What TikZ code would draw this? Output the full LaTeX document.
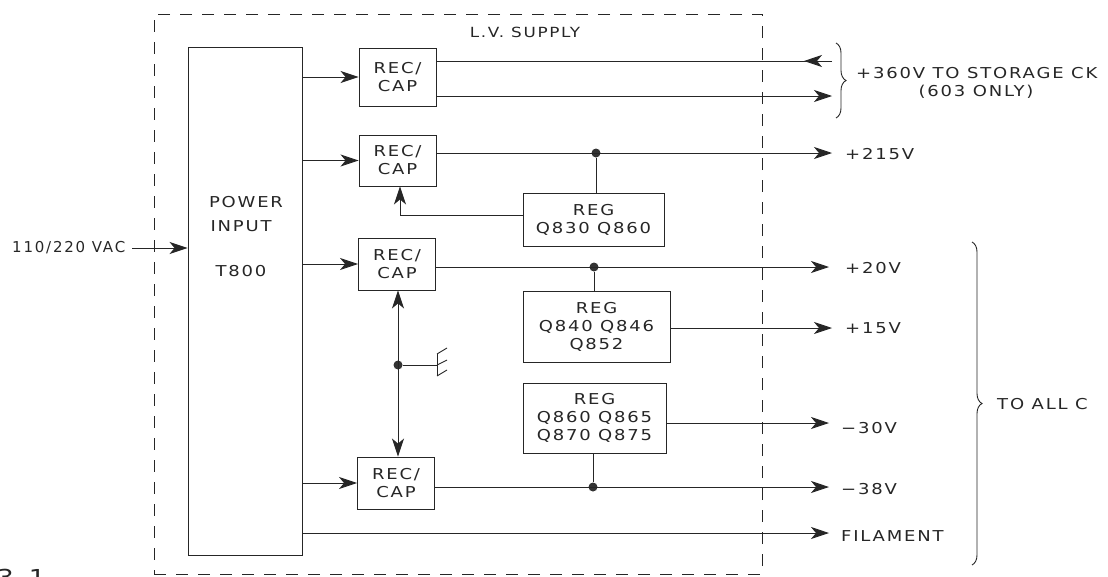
\documentclass[tikz,border=0pt]{standalone}
\usepackage{fontspec}
\setmainfont{DejaVu Sans}
\newfontfamily\lbfont{DejaVu Sans}[FakeStretch=1.2,LetterSpace=12]
\newfontfamily\lbfontn{DejaVu Sans}[LetterSpace=12]
\usetikzlibrary{arrows.meta,decorations.pathreplacing,calc}
\begin{document}
\begin{tikzpicture}[x=1pt,y=-1pt,
  txt/.style={font=\lbfont\fontsize{15}{18}\selectfont, inner sep=0pt, align=center, text=black!85},
  box/.style={draw=black!85, line width=0.9pt, inner sep=0pt},
  rcbox/.style={box, txt, minimum width=77pt, minimum height=52pt},
  regbox/.style={box, txt},
  ln/.style={line width=0.9pt, draw=black!85},
  arr/.style={ln, -{Stealth[length=18pt,width=12pt,inset=5pt]}},
  dot/.style={circle, fill=black!80, inner sep=0pt, minimum size=9pt},
  brc/.style={ln, decorate, decoration={brace, amplitude=10pt}}]
\useasboundingbox (0,0) rectangle (1108,576);
% dashed L.V. supply frame
\node[draw=black!85, line width=1pt, dash pattern=on 12pt off 10pt, minimum width=608pt, minimum height=560pt, inner sep=0pt] (lv) at (458,294) {};
\node[txt, font=\lbfont\fontsize{14}{16}\selectfont] (lvl) at (525,32) {L.V. SUPPLY};
% power input
\node[box, minimum width=114pt, minimum height=508pt] (power) at (245,301) {};
\node[txt] (pw1) at (246,202) {POWER};
\node[txt] (pw2) at (241,226) {INPUT};
\node[txt] (pw3) at (241,271) {T800};
\node[txt, font=\lbfontn\fontsize{15}{18}\selectfont, anchor=west] (vac) at (12,248) {110/220 VAC};
\draw[arr] ([xshift=7pt]vac.east) -- (vac.east -| power.west);
% rec/cap boxes
\node[rcbox, minimum height=58pt] (rc1) at (397.5,77) {REC/\\CAP};
\node[rcbox, minimum height=51pt] (rc2) at (397.5,160.5) {REC/\\CAP};
\node[rcbox] (rc3) at (397,264) {REC/\\CAP};
\node[rcbox] (rc4) at (396,483) {REC/\\CAP};
\foreach \r in {rc1,rc2,rc3,rc4} \draw[arr] (power.east |- \r.west) -- (\r.west);
% regulators
\node[regbox, minimum width=141pt, minimum height=53pt] (reg1) at (593.5,219.5) {REG\\Q830 Q860};
\node[regbox, minimum width=147pt, minimum height=71pt] (reg2) at (596.5,326.5) {REG\\Q840 Q846\\Q852};
\node[regbox, minimum width=143pt, minimum height=70pt] (reg3) at (594.5,418) {REG\\Q860 Q865\\Q870 Q875};
% +360V
\coordinate (t1a) at (832,61);
\coordinate (t1tip) at (804,61);
\coordinate (t1b) at (832,96);
\draw[ln] (rc1.east |- t1a) -- (t1a);
\draw[arr] (t1a) -- (t1tip);
\draw[arr] (rc1.east |- t1b) -- (t1b);
\coordinate (b1t) at (836,43);
\coordinate (b1b) at (836,118);
\draw[brc] (b1t) -- (b1b);
\node[txt, anchor=west] (st) at (856,73) {+360V TO STORAGE CK};
\node[txt] (only) at (976,92) {(603 ONLY)};
% +215V
\node[dot] (d1) at (596,153) {};
\coordinate (o2) at (832,153);
\draw[arr] (rc2.east |- d1) -- (o2);
\draw[ln] (reg1.north -| d1) -- (d1);
\coordinate (fb) at (400,215);
\draw[arr] (reg1.west |- fb) -- (fb) -- (fb |- rc2.south);
\node[txt, anchor=west] (l215) at (845,154) {+215V};
% +20V
\node[dot] (d2) at (594,267) {};
\coordinate (o3) at (829,267);
\draw[arr] (rc3.east |- d2) -- (o3);
\draw[ln] (reg2.north -| d2) -- (d2);
\node[txt, anchor=west] (l20) at (845,268) {+20V};
% +15V
\coordinate (o4) at (832,328);
\draw[arr] (reg2.east |- o4) -- (o4);
\node[txt, anchor=west] (l15) at (845,328) {+15V};
% -30V
\coordinate (o5) at (829,423);
\draw[arr] (reg3.east |- o5) -- (o5);
\node[txt, anchor=west] (l30) at (841,428) {−30V};
% -38V
\node[dot] (d3) at (593,487) {};
\coordinate (o6) at (829,487);
\draw[arr] (rc4.east |- d3) -- (o6);
\draw[ln] (reg3.south -| d3) -- (d3);
\node[txt, anchor=west] (l38) at (841,489) {−38V};
% filament
\coordinate (o7) at (829,533);
\draw[arr] (power.east |- o7) -- (o7);
\node[txt, anchor=west] (lfil) at (841,536) {FILAMENT};
% ground link between rec/cap 3 and 4
\node[dot] (g) at (398,365) {};
\draw[ln, {Stealth[length=18pt,width=12pt,inset=5pt]}-{Stealth[length=18pt,width=12pt,inset=5pt]}] (rc3.south -| g) -- (rc4.north -| g);
\coordinate (gnd) at (437,365);
\draw[ln] (g) -- (gnd);
\draw[ln] (437,354) -- (437,376);
\draw[ln] (437,354) -- (447,348);
\draw[ln] (437,365) -- (447,360);
\draw[ln] (437,376) -- (447,370);
% brace to all circuits
\coordinate (b2t) at (972,242);
\coordinate (b2b) at (972,565);
\draw[brc] (b2t) -- (b2b);
\node[txt, anchor=west] (all) at (997,404) {TO ALL C};
% figure number fragment
\node[font=\lbfont\fontsize{22}{22}\selectfont, text=black!85, anchor=north west, inner sep=0pt] (fig) at (-3,569) {3-1};
\end{tikzpicture}
\end{document}
